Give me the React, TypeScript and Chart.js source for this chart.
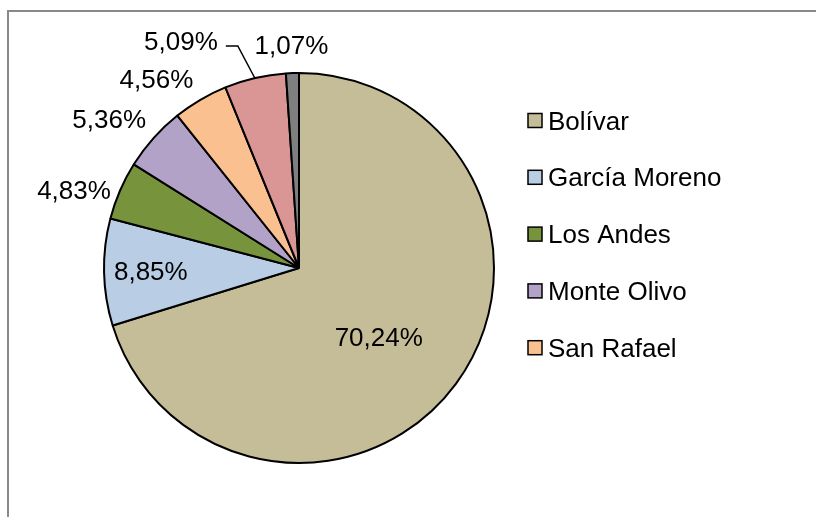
import React, { useEffect, useRef } from "react";
import { Chart, registerables } from "chart.js";

Chart.register(...registerables);

const categories = ["Bolívar", "García Moreno", "Los Andes", "Monte Olivo", "San Rafael", "Otros 1", "Otros 2"];
const shares = [70.24, 8.85, 4.83, 5.36, 4.56, 5.09, 1.07];
const valueLabels = ["70,24%", "8,85%", "4,83%", "5,36%", "4,56%", "5,09%", "1,07%"];
const sliceColors = ["#C4BD97", "#B9CDE5", "#77933C", "#B3A2C7", "#FAC090", "#D99694", "#7F7F7F"];
const legendCount = 5;

// label placement style per slice: inside (fraction of radius) or outside (distance beyond edge)
type LabelStyle = { mode: "in" | "out" | "leader"; r: number; align: CanvasTextAlign; nx: number; ny: number };
const labelStyles: LabelStyle[] = [
  { mode: "in", r: 0.54, align: "center", nx: -5, ny: 8 },
  { mode: "in", r: 0.76, align: "center", nx: 0, ny: 2 },
  { mode: "out", r: 10, align: "right", nx: 0, ny: 5 },
  { mode: "out", r: 10, align: "right", nx: 0, ny: -11 },
  { mode: "out", r: 10, align: "right", nx: -2, ny: -10 },
  { mode: "leader", r: 0, align: "right", nx: 0, ny: 0 },
  { mode: "out", r: 29, align: "center", nx: 0, ny: 3 },
];

const FONT = "26px 'Liberation Sans', Arial, sans-serif";

const framePlugin = {
  id: "frame",
  beforeDraw(chart: any) {
    const ctx = chart.ctx;
    ctx.save();
    ctx.fillStyle = "#ffffff";
    ctx.fillRect(0, 0, chart.width, chart.height);
    ctx.strokeStyle = "#898989";
    ctx.lineWidth = 2;
    ctx.beginPath();
    ctx.moveTo(8, chart.height);
    ctx.lineTo(8, 11);
    ctx.lineTo(chart.width, 11);
    ctx.stroke();
    ctx.restore();
  },
};

const labelsPlugin = {
  id: "sliceLabels",
  afterDatasetsDraw(chart: any) {
    const ctx = chart.ctx;
    const meta = chart.getDatasetMeta(0);
    ctx.save();
    ctx.font = FONT;
    ctx.fillStyle = "#000";
    ctx.textBaseline = "middle";
    meta.data.forEach((arc: any, i: number) => {
      const st = labelStyles[i];
      const { x, y, startAngle, endAngle, outerRadius } = arc.getProps(["x", "y", "startAngle", "endAngle", "outerRadius"], true);
      const mid = (startAngle + endAngle) / 2;
      const c = Math.cos(mid);
      const s = Math.sin(mid);
      let px: number, py: number;
      if (st.mode === "in") {
        px = x + c * outerRadius * st.r;
        py = y + s * outerRadius * st.r;
      } else if (st.mode === "out") {
        px = x + c * (outerRadius + st.r);
        py = y + s * (outerRadius + st.r);
      } else {
        const ex = x + c * (outerRadius - 1);
        const ey = y + s * (outerRadius - 1);
        const elx = ex - 17.5;
        const ely = ey - 33;
        const endx = elx - 12;
        ctx.strokeStyle = "#000";
        ctx.lineWidth = 1.5;
        ctx.beginPath();
        ctx.moveTo(ex, ey);
        ctx.lineTo(elx, ely);
        ctx.lineTo(endx, ely);
        ctx.stroke();
        px = endx - 8;
        py = ely - 3;
      }
      ctx.textAlign = st.align;
      ctx.fillText(valueLabels[i], px + st.nx, py + st.ny);
    });
    ctx.restore();
  },
};

const legendPlugin = {
  id: "sideLegend",
  afterDraw(chart: any) {
    const ctx = chart.ctx;
    ctx.save();
    ctx.font = FONT;
    ctx.textBaseline = "middle";
    ctx.textAlign = "left";
    const labels = chart.data.labels as string[];
    const colors = chart.data.datasets[0].backgroundColor as string[];
    for (let i = 0; i < legendCount; i++) {
      const cy = 120.5 + i * 56.8;
      ctx.fillStyle = colors[i];
      ctx.fillRect(528, cy - 7, 14, 14);
      ctx.strokeStyle = "#000";
      ctx.lineWidth = 1.5;
      ctx.strokeRect(528, cy - 7, 14, 14);
      ctx.fillStyle = "#000";
      ctx.fillText(labels[i], 548, cy + 2);
    }
    ctx.restore();
  },
};

export default function App() {
  const ref = useRef<HTMLCanvasElement | null>(null);
  useEffect(() => {
    if (!ref.current) return;
    const chart = new Chart(ref.current, {
      type: "pie",
      data: {
        labels: categories,
        datasets: [
          {
            data: shares,
            backgroundColor: sliceColors,
            borderColor: "#000000",
            borderWidth: 2,
          },
        ],
      },
      options: {
        responsive: false,
        animation: false,
        layout: { padding: { left: 103, right: 321, top: 72, bottom: 53 } },
        plugins: {
          legend: { display: false },
          tooltip: { enabled: false },
        },
      },
      plugins: [framePlugin, labelsPlugin, legendPlugin],
    });
    return () => chart.destroy();
  }, []);
  return (
    <div style={{ position: "fixed", left: 0, top: 0, width: 816, height: 517, background: "#fff" }}>
      <canvas ref={ref} width={816} height={517} style={{ display: "block", width: 816, height: 517 }} />
    </div>
  );
}
